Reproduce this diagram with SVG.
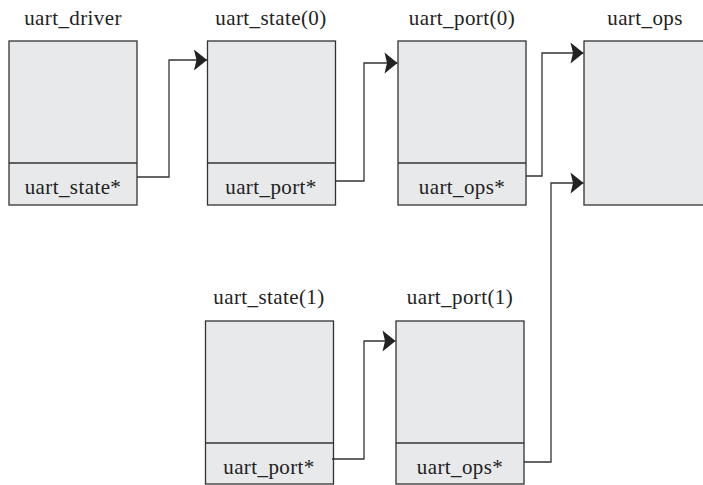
<svg xmlns="http://www.w3.org/2000/svg" width="703" height="485" viewBox="0 0 703 485">
<style>
.box{fill:#e8e9eb;stroke:#333;stroke-width:1.3}
.div{stroke:#333;stroke-width:1.3;fill:none}
.t{font-family:"Liberation Serif","Times New Roman",serif;font-size:21px;letter-spacing:0.4px;fill:#222;text-anchor:middle}
.c{fill:none;stroke:#333;stroke-width:1.3}
</style>
<defs>
<marker id="ah" markerUnits="userSpaceOnUse" viewBox="-15 -12 16 24" refX="0" refY="0" markerWidth="16" markerHeight="24" orient="auto">
<path d="M0,0 L-13,-10.5 L-10.5,0 L-13,10.5 Z" fill="#222"/>
</marker>
</defs>
<rect width="703" height="485" fill="#fff"/>
<g id="uart_driver">
<text class="t" x="73" y="25">uart_driver</text>
<rect class="box" x="9" y="41" width="128" height="164"/>
<line class="div" x1="9" y1="163" x2="137" y2="163"/>
<text class="t" x="73" y="194">uart_state*</text>
</g>
<g id="uart_state0">
<text class="t" x="271" y="25">uart_state(0)</text>
<rect class="box" x="207.5" y="41" width="128" height="164"/>
<line class="div" x1="207.5" y1="163" x2="335.5" y2="163"/>
<text class="t" x="271" y="194">uart_port*</text>
</g>
<g id="uart_port0">
<text class="t" x="462" y="25">uart_port(0)</text>
<rect class="box" x="398" y="41" width="128" height="164"/>
<line class="div" x1="398" y1="163" x2="526" y2="163"/>
<text class="t" x="462" y="194">uart_ops*</text>
</g>
<g id="uart_ops">
<text class="t" x="645" y="25">uart_ops</text>
<rect class="box" x="584" y="41" width="125" height="164"/>
</g>
<g id="uart_state1">
<text class="t" x="269" y="304">uart_state(1)</text>
<rect class="box" x="205.5" y="321" width="128" height="163"/>
<line class="div" x1="205.5" y1="443" x2="333.5" y2="443"/>
<text class="t" x="269" y="474">uart_port*</text>
</g>
<g id="uart_port1">
<text class="t" x="460" y="304">uart_port(1)</text>
<rect class="box" x="396" y="321" width="128" height="163"/>
<line class="div" x1="396" y1="443" x2="524" y2="443"/>
<text class="t" x="460" y="474">uart_ops*</text>
</g>
<g id="connectors">
<path class="c" d="M137,177 H169 V60 H207" marker-end="url(#ah)"/>
<path class="c" d="M335.5,181 H364 V63 H397.5" marker-end="url(#ah)"/>
<path class="c" d="M526,176 H542 V53 H583.5" marker-end="url(#ah)"/>
<path class="c" d="M524,462 H551 V183 H583.5" marker-end="url(#ah)"/>
<path class="c" d="M332,459 H364 V341 H395.5" marker-end="url(#ah)"/>
</g>
</svg>
